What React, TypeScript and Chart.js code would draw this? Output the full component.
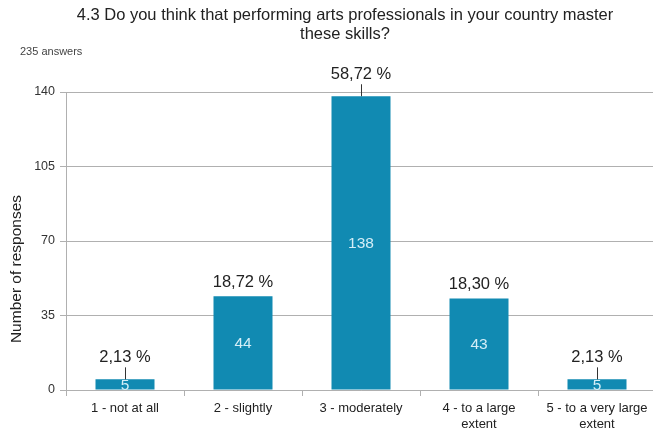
import React, { useEffect, useRef } from "react";
import { Chart, registerables } from "chart.js";

Chart.register(...registerables);

const categories: (string | string[])[] = [
  "1 - not at all",
  "2 - slightly",
  "3 - moderately",
  ["4 - to a large", "extent"],
  ["5 - to a very large", "extent"],
];
const counts = [5, 44, 138, 43, 5];
const percentLabels = ["2,13 %", "18,72 %", "58,72 %", "18,30 %", "2,13 %"];
const showConnector = [true, false, true, false, true];
const titleLines = [
  "4.3 Do you think that performing arts professionals in your country master",
  "these skills?",
];
const subtitleText = "235 answers";
const yAxisTitle = "Number of responses";
const yTicks = [0, 35, 70, 105, 140];

const FONT = "'Liberation Sans', Arial, sans-serif";

const annotatePlugin = {
  id: "annotate",
  afterDatasetsDraw(chart: any) {
    const ctx = chart.ctx;
    const meta = chart.getDatasetMeta(0);
    ctx.save();
    meta.data.forEach((bar: any, i: number) => {
      const x = bar.x;
      const top = bar.y;
      const base = bar.base;
      // value label inside bar
      ctx.fillStyle = "#d4eef7";
      ctx.font = `15.5px ${FONT}`;
      ctx.textAlign = "center";
      ctx.textBaseline = "middle";
      ctx.fillText(String(counts[i]), x, (top + base) / 2 + 1);
      // percentage label
      ctx.fillStyle = "#222";
      ctx.font = `16.5px ${FONT}`;
      ctx.textBaseline = "alphabetic";
      if (showConnector[i]) {
        ctx.strokeStyle = "#333";
        ctx.lineWidth = 1;
        ctx.beginPath();
        ctx.moveTo(Math.round(x) + 0.5, top - 12);
        ctx.lineTo(Math.round(x) + 0.5, top);
        ctx.stroke();
        ctx.fillText(percentLabels[i], x, top - 17);
      } else {
        ctx.fillText(percentLabels[i], x, top - 9);
      }
    });
    // title
    ctx.fillStyle = "#222";
    ctx.font = `16.5px ${FONT}`;
    ctx.textAlign = "center";
    ctx.textBaseline = "middle";
    ctx.fillText(titleLines[0], 345, 15);
    ctx.fillText(titleLines[1], 345, 34);
    // subtitle
    ctx.font = `11px ${FONT}`;
    ctx.fillStyle = "#444";
    ctx.textAlign = "left";
    ctx.fillText(subtitleText, 20, 52);
    // y-axis title
    ctx.translate(17, 269);
    ctx.rotate(-Math.PI / 2);
    ctx.font = `15.5px ${FONT}`;
    ctx.fillStyle = "#222";
    ctx.textAlign = "center";
    ctx.fillText(yAxisTitle, 0, 0);
    ctx.restore();
  },
};

export default function App() {
  const ref = useRef<HTMLCanvasElement>(null);
  useEffect(() => {
    document.body.style.margin = "0";
    const chart = new Chart(ref.current!, {
      type: "bar",
      data: {
        labels: categories,
        datasets: [
          {
            data: counts,
            backgroundColor: "#118AB2",
            barPercentage: 0.5,
            categoryPercentage: 1,
          },
        ],
      },
      options: {
        animation: false,
        responsive: false,
        layout: { padding: { top: 92, left: 0, right: 0, bottom: 0 } },
        plugins: {
          legend: { display: false },
          tooltip: { enabled: false },
          title: { display: false },
        },
        scales: {
          x: {
            grid: {
              drawOnChartArea: false,
              drawTicks: true,
              tickLength: 6,
              color: "#b0b0b0",
            },
            border: { color: "#b0b0b0" },
            ticks: {
              color: "#222",
              font: { family: FONT, size: 13 },
              padding: 5,
              maxRotation: 0,
              autoSkip: false,
            },
            afterFit(scale: any) {
              scale.height = 42;
            },
          },
          y: {
            min: 0,
            max: 140,
            afterBuildTicks(scale: any) {
              scale.ticks = yTicks.map((v) => ({ value: v }));
            },
            grid: { color: "#b0b0b0", tickLength: 6 },
            border: { color: "#b0b0b0" },
            ticks: {
              color: "#333",
              font: { family: FONT, size: 12.5 },
              padding: 5,
            },
            afterFit(scale: any) {
              scale.width = 66;
            },
          },
        },
      },
      plugins: [annotatePlugin],
    });
    return () => chart.destroy();
  }, []);
  return (
    <div
      style={{
        position: "absolute",
        left: 0,
        top: 0,
        width: 653,
        height: 432,
        overflow: "hidden",
      }}
    >
      <canvas ref={ref} width={656} height={432} style={{ width: 656, height: 432 }} />
    </div>
  );
}
